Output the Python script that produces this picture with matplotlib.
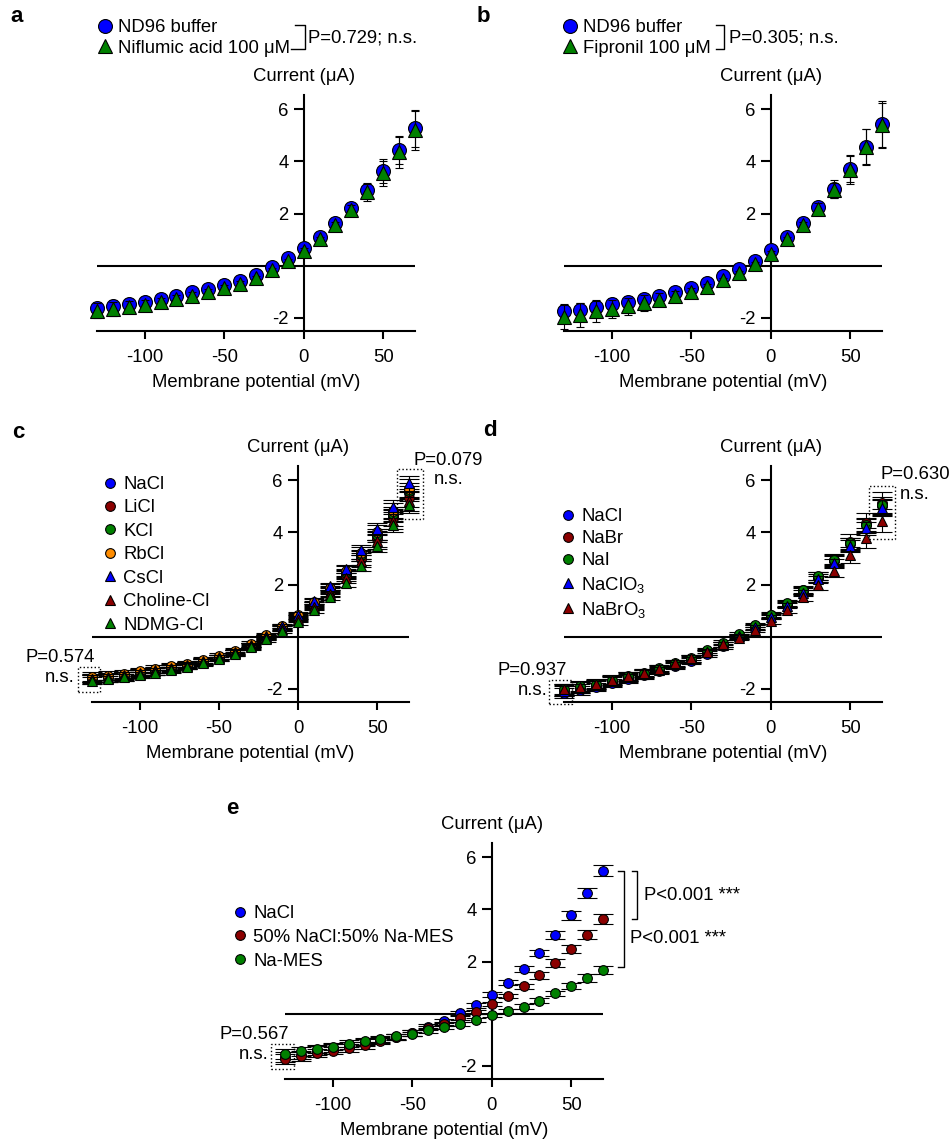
import matplotlib
matplotlib.use('Agg')
import matplotlib.pyplot as plt
from matplotlib.lines import Line2D
from matplotlib.patches import Rectangle

plt.rcParams['font.family'] = ['Liberation Sans', 'DejaVu Sans']
plt.rcParams['font.size'] = 13.3
plt.rcParams['axes.unicode_minus'] = False
plt.rcParams['mathtext.default'] = 'regular'

# membrane potential steps (mV)
volt = [-130, -120, -110, -100, -90, -80, -70, -60, -50, -40, -30,
        -20, -10, 0, 10, 20, 30, 40, 50, 60, 70]

# panel a
a_nd96 = [-1.62, -1.53, -1.46, -1.37, -1.28, -1.15, -1.02, -0.89, -0.73, -0.57, -0.34,
          -0.05, 0.29, 0.68, 1.10, 1.63, 2.21, 2.89, 3.64, 4.44, 5.27]
a_nd96_err = [0.25, 0.22, 0.20, 0.18, 0.16, 0.15, 0.13, 0.12, 0.11, 0.10, 0.09,
              0.08, 0.08, 0.09, 0.10, 0.12, 0.20, 0.30, 0.45, 0.55, 0.70]
a_nif = [-1.72, -1.65, -1.58, -1.50, -1.40, -1.28, -1.15, -1.02, -0.86, -0.70, -0.48,
         -0.17, 0.18, 0.58, 1.02, 1.56, 2.15, 2.82, 3.55, 4.35, 5.20]
a_nif_err = [0.30, 0.27, 0.24, 0.20, 0.18, 0.16, 0.14, 0.12, 0.11, 0.10, 0.09,
             0.08, 0.08, 0.09, 0.10, 0.12, 0.20, 0.32, 0.48, 0.60, 0.75]

# panel b
b_nd96 = [-1.75, -1.69, -1.58, -1.46, -1.37, -1.28, -1.14, -1.01, -0.86, -0.66, -0.41,
          -0.11, 0.20, 0.61, 1.10, 1.63, 2.25, 2.94, 3.70, 4.57, 5.43]
b_nd96_err = [0.30, 0.28, 0.25, 0.22, 0.20, 0.18, 0.15, 0.13, 0.12, 0.10, 0.09,
              0.08, 0.08, 0.09, 0.10, 0.12, 0.20, 0.35, 0.50, 0.68, 0.90]
b_fip = [-1.97, -1.88, -1.75, -1.66, -1.56, -1.43, -1.30, -1.15, -1.02, -0.82, -0.56,
         -0.28, 0.08, 0.46, 1.02, 1.56, 2.17, 2.89, 3.68, 4.55, 5.40]
b_fip_err = [0.45, 0.45, 0.40, 0.35, 0.33, 0.30, 0.25, 0.20, 0.15, 0.12, 0.10,
             0.08, 0.08, 0.09, 0.10, 0.12, 0.22, 0.30, 0.55, 0.70, 0.85]

# panel c
c_labels = ['NaCl', 'LiCl', 'KCl', 'RbCl', 'CsCl', 'Choline-Cl', 'NDMG-Cl']
c_nacl = [-1.58, -1.53, -1.47, -1.37, -1.28, -1.17, -1.07, -0.93, -0.77, -0.58, -0.32,
          0.00, 0.36, 0.76, 1.25, 1.80, 2.42, 3.10, 3.85, 4.65, 5.50]
c_licl = [-1.61, -1.56, -1.50, -1.40, -1.31, -1.20, -1.10, -0.95, -0.79, -0.60, -0.34,
          -0.02, 0.33, 0.72, 1.20, 1.72, 2.32, 2.98, 3.74, 4.55, 5.32]
c_kcl = [-1.59, -1.54, -1.48, -1.38, -1.29, -1.18, -1.08, -0.94, -0.78, -0.59, -0.33,
         0.00, 0.36, 0.78, 1.28, 1.83, 2.45, 3.15, 3.92, 4.72, 5.58]
c_rbcl = [-1.53, -1.49, -1.43, -1.33, -1.24, -1.13, -1.03, -0.89, -0.73, -0.54, -0.27,
          0.06, 0.40, 0.82, 1.33, 1.89, 2.52, 3.22, 4.00, 4.82, 5.68]
c_cscl = [-1.60, -1.54, -1.48, -1.38, -1.29, -1.18, -1.08, -0.94, -0.77, -0.57, -0.30,
          0.04, 0.42, 0.85, 1.37, 1.93, 2.60, 3.33, 4.13, 4.98, 5.88]
c_chol = [-1.63, -1.58, -1.52, -1.42, -1.33, -1.22, -1.11, -0.97, -0.81, -0.62, -0.36,
          -0.04, 0.31, 0.68, 1.15, 1.66, 2.25, 2.90, 3.66, 4.45, 5.20]
c_ndmg = [-1.68, -1.62, -1.56, -1.46, -1.37, -1.26, -1.15, -1.01, -0.85, -0.66, -0.41,
          -0.10, 0.24, 0.55, 1.02, 1.52, 2.07, 2.72, 3.48, 4.28, 5.06]
c_err_small = [0.14, 0.13, 0.12, 0.12, 0.11, 0.11, 0.10, 0.10, 0.09, 0.09, 0.08,
               0.08, 0.08, 0.09, 0.10, 0.12, 0.15, 0.18, 0.22, 0.26, 0.30]
c_err_large = [0.18, 0.17, 0.16, 0.15, 0.14, 0.13, 0.12, 0.12, 0.11, 0.10, 0.10,
               0.09, 0.09, 0.10, 0.12, 0.15, 0.19, 0.23, 0.28, 0.32, 0.36]

# panel d
d_labels = ['NaCl', 'NaBr', 'NaI', 'NaClO$_3$', 'NaBrO$_3$']
d_nacl = [-2.15, -2.05, -1.93, -1.78, -1.62, -1.48, -1.32, -1.13, -0.93, -0.66, -0.36,
          -0.02, 0.36, 0.78, 1.24, 1.74, 2.26, 2.90, 3.55, 4.27, 5.00]
d_nabr = [-2.05, -1.95, -1.85, -1.70, -1.55, -1.42, -1.26, -1.07, -0.87, -0.60, -0.30,
          0.02, 0.40, 0.83, 1.27, 1.78, 2.30, 2.94, 3.62, 4.36, 5.12]
d_nai = [-2.00, -1.90, -1.80, -1.65, -1.50, -1.37, -1.20, -1.00, -0.80, -0.52, -0.22,
         0.10, 0.45, 0.85, 1.30, 1.79, 2.32, 2.95, 3.58, 4.30, 5.06]
d_naclo3 = [-2.08, -1.97, -1.86, -1.71, -1.56, -1.42, -1.26, -1.06, -0.86, -0.60, -0.30,
            0.02, 0.36, 0.76, 1.19, 1.67, 2.20, 2.82, 3.48, 4.16, 4.93]
d_nabro3 = [-2.02, -1.92, -1.82, -1.66, -1.51, -1.38, -1.22, -1.02, -0.83, -0.57, -0.28,
            -0.03, 0.27, 0.61, 1.02, 1.51, 1.98, 2.54, 3.14, 3.78, 4.45]
d_err_small = [0.18, 0.17, 0.16, 0.15, 0.14, 0.13, 0.12, 0.11, 0.10, 0.10, 0.09,
               0.08, 0.08, 0.09, 0.10, 0.12, 0.15, 0.18, 0.22, 0.26, 0.30]
d_err_large = [0.22, 0.21, 0.20, 0.19, 0.17, 0.16, 0.14, 0.13, 0.12, 0.11, 0.10,
               0.09, 0.09, 0.10, 0.12, 0.15, 0.20, 0.25, 0.32, 0.38, 0.45]

# panel e
e_labels = ['NaCl', '50% NaCl:50% Na-MES', 'Na-MES']
e_nacl = [-1.67, -1.58, -1.41, -1.31, -1.22, -1.09, -1.00, -0.90, -0.74, -0.49, -0.26,
          0.03, 0.32, 0.73, 1.19, 1.72, 2.33, 3.03, 3.78, 4.62, 5.49]
e_nacl_err = [0.19, 0.17, 0.16, 0.15, 0.14, 0.13, 0.12, 0.11, 0.10, 0.09, 0.08,
              0.08, 0.08, 0.09, 0.10, 0.11, 0.13, 0.15, 0.17, 0.19, 0.21]
e_half = [-1.73, -1.63, -1.51, -1.41, -1.31, -1.21, -1.05, -0.90, -0.74, -0.54, -0.38,
          -0.15, 0.08, 0.38, 0.68, 1.06, 1.47, 1.95, 2.49, 3.04, 3.64]
e_half_err = [0.19, 0.17, 0.16, 0.15, 0.14, 0.13, 0.12, 0.11, 0.10, 0.09, 0.08,
              0.08, 0.08, 0.08, 0.09, 0.10, 0.12, 0.14, 0.16, 0.18, 0.19]
e_mes = [-1.54, -1.44, -1.35, -1.26, -1.15, -1.06, -0.97, -0.87, -0.77, -0.64, -0.51,
         -0.38, -0.23, -0.06, 0.10, 0.28, 0.51, 0.78, 1.08, 1.37, 1.67]
e_mes_err = [0.18, 0.16, 0.15, 0.14, 0.13, 0.12, 0.11, 0.10, 0.09, 0.08, 0.08,
             0.07, 0.07, 0.07, 0.08, 0.09, 0.10, 0.11, 0.12, 0.14, 0.15]

BLUE = '#0000ff'
RED = '#8b0000'
GREEN = '#008000'
ORANGE = '#ff8c00'

W, H = 951, 1140
fig = plt.figure(figsize=(W / 100, H / 100), dpi=100)


def fx(x):
    return x / W


def fy(y):
    return 1 - y / H


def iv_axes(left, top, right, bottom):
    ax = fig.add_axes([fx(left), fy(bottom), (right - left) / W, (bottom - top) / H])
    ax.patch.set_alpha(0)
    ax.set_xlim(-130, 70)
    ax.set_ylim(-2.5, 6.55)
    for s in ['top', 'right']:
        ax.spines[s].set_visible(False)
    ax.spines['left'].set_position(('data', 0))
    ax.spines['left'].set_linewidth(1.5)
    ax.spines['bottom'].set_linewidth(1.5)
    ax.spines['left'].set_zorder(1)
    ax.axhline(0, color='black', lw=1.5, zorder=1)
    ax.set_xticks([-100, -50, 0, 50])
    ax.set_yticks([-2, 2, 4, 6])
    ax.tick_params(axis='x', length=6, width=1.5, pad=7)
    ax.tick_params(axis='y', length=7, width=1.5, pad=4)
    ax.set_xlabel('Membrane potential (mV)', labelpad=6)
    ax.annotate('Current (μA)', xy=(0, 1), xycoords=('data', 'axes fraction'),
                xytext=(0, 13), textcoords='offset points', ha='center', va='center')
    return ax


def series(ax, y, err, marker, color, ms, capsize, z):
    c = ax.errorbar(volt, y, yerr=err, fmt=marker, color=color, mec='black', mew=0.8,
                    ms=ms, ecolor='black', elinewidth=0.8, capsize=capsize,
                    capthick=0.8, zorder=z)
    for art in c.get_children():
        art.set_clip_on(False)


def legend(ax, markers, colors, labels, ms, x, y, spacing):
    handles = [Line2D([], [], ls='none', marker=m, color=c, mec='black', mew=0.8, ms=ms)
               for m, c in zip(markers, colors)]
    ax.legend(handles, labels, loc='upper left', bbox_to_anchor=(fx(x), fy(y)),
              bbox_transform=fig.transFigure, frameon=False, borderpad=0,
              borderaxespad=0, handlelength=1.0, handletextpad=0.2,
              labelspacing=spacing)


def pbox(ax, x0, x1, y0, y1):
    ax.add_patch(Rectangle((x0, y0), x1 - x0, y1 - y0, fill=False, ls=':', lw=1,
                           ec='black', clip_on=False, zorder=10))


def fig_bracket(xs, ys):
    fig.add_artist(Line2D([fx(v) for v in xs], [fy(v) for v in ys], color='black', lw=1))


# ---- a ----
ax = iv_axes(97, 95, 415, 331)
series(ax, a_nd96, a_nd96_err, 'o', BLUE, 10, 3, 3)
series(ax, a_nif, a_nif_err, '^', GREEN, 10, 3, 4)
legend(ax, ['o', '^'], [BLUE, GREEN], ['ND96 buffer', 'Niflumic acid 100 μM'], 10, 96, 19, 0.21)
fig_bracket([295, 305, 305, 291], [25, 25, 49, 49])
fig.text(fx(308), fy(38), 'P=0.729; n.s.', ha='left', va='center')
fig.text(fx(17), fy(17), 'a', weight='bold', fontsize=16, ha='center', va='center')

# ---- b ----
ax = iv_axes(564, 95, 882, 331)
series(ax, b_nd96, b_nd96_err, 'o', BLUE, 10, 3, 3)
series(ax, b_fip, b_fip_err, '^', GREEN, 10, 3, 4)
legend(ax, ['o', '^'], [BLUE, GREEN], ['ND96 buffer', 'Fipronil 100 μM'], 10, 561, 19, 0.21)
fig_bracket([716, 724, 724, 716], [25, 25, 49, 49])
fig.text(fx(729), fy(38), 'P=0.305; n.s.', ha='left', va='center')
fig.text(fx(483), fy(17), 'b', weight='bold', fontsize=16, ha='center', va='center')

# ---- c ----
ax = iv_axes(92, 466, 409, 702)
series(ax, c_nacl, c_err_small, 'o', BLUE, 7, 7, 3)
series(ax, c_licl, c_err_large, 'o', RED, 7, 7, 3)
series(ax, c_kcl, c_err_small, 'o', GREEN, 7, 7, 3)
series(ax, c_rbcl, c_err_large, 'o', ORANGE, 7, 7, 3)
series(ax, c_cscl, c_err_small, '^', BLUE, 7, 7, 4)
series(ax, c_chol, c_err_large, '^', RED, 7, 7, 4)
series(ax, c_ndmg, c_err_small, '^', GREEN, 7, 7, 4)
legend(ax, ['o', 'o', 'o', 'o', '^', '^', '^'],
       [BLUE, RED, GREEN, ORANGE, BLUE, RED, GREEN], c_labels, 7, 101, 476, 0.35)
pbox(ax, 62.4, 78.8, 4.52, 6.44)
pbox(ax, -138.6, -124.8, -2.12, -1.16)
ax.text(95, 6.4, 'P=0.079\nn.s.', ha='center', va='center', multialignment='center')
ax.text(-150.3, -1.18, 'P=0.574\nn.s.', ha='center', va='center', multialignment='center')
fig.text(fx(18), fy(432), 'c', weight='bold', fontsize=16, ha='center', va='center')

# ---- d ----
ax = iv_axes(564, 466, 882, 702)
series(ax, d_nacl, d_err_small, 'o', BLUE, 7, 7, 3)
series(ax, d_nabr, d_err_large, 'o', RED, 7, 7, 3)
series(ax, d_nai, d_err_small, 'o', GREEN, 7, 7, 3)
series(ax, d_naclo3, d_err_small, '^', BLUE, 7, 7, 4)
series(ax, d_nabro3, d_err_large, '^', RED, 7, 7, 4)
legend(ax, ['o', 'o', 'o', '^', '^'], [BLUE, RED, GREEN, BLUE, RED], d_labels,
       7, 559, 508, 0.28)
pbox(ax, 61.8, 77.9, 3.75, 5.80)
pbox(ax, -139.3, -124.8, -2.58, -1.66)
ax.text(90.7, 5.83, 'P=0.630\nn.s.', ha='center', va='center', multialignment='center')
ax.text(-149.7, -1.68, 'P=0.937\nn.s.', ha='center', va='center', multialignment='center')
fig.text(fx(490), fy(431), 'd', weight='bold', fontsize=16, ha='center', va='center')

# ---- e ----
ax = iv_axes(285, 843, 603, 1079)
series(ax, e_nacl, e_nacl_err, 'o', BLUE, 7, 7, 3)
series(ax, e_half, e_half_err, 'o', RED, 7, 7, 3)
series(ax, e_mes, e_mes_err, 'o', GREEN, 7, 7, 3)
legend(ax, ['o', 'o', 'o'], [BLUE, RED, GREEN], e_labels, 7, 231, 905, 0.37)
pbox(ax, -139.0, -124.6, -2.10, -1.14)
ax.text(-149.4, -1.17, 'P=0.567\nn.s.', ha='center', va='center', multialignment='center')
ax.plot([88.1, 91.1, 91.1, 88.1], [5.46, 5.46, 3.64, 3.64], color='black', lw=1, clip_on=False)
ax.plot([79.2, 82.9, 82.9, 79.2], [5.46, 5.46, 1.81, 1.81], color='black', lw=1, clip_on=False)
ax.text(95.6, 4.53, 'P<0.001 ***', ha='left', va='center')
ax.text(86.9, 2.88, 'P<0.001 ***', ha='left', va='center')
fig.text(fx(232), fy(809), 'e', weight='bold', fontsize=16, ha='center', va='center')

fig.savefig('out.png', dpi=100)
